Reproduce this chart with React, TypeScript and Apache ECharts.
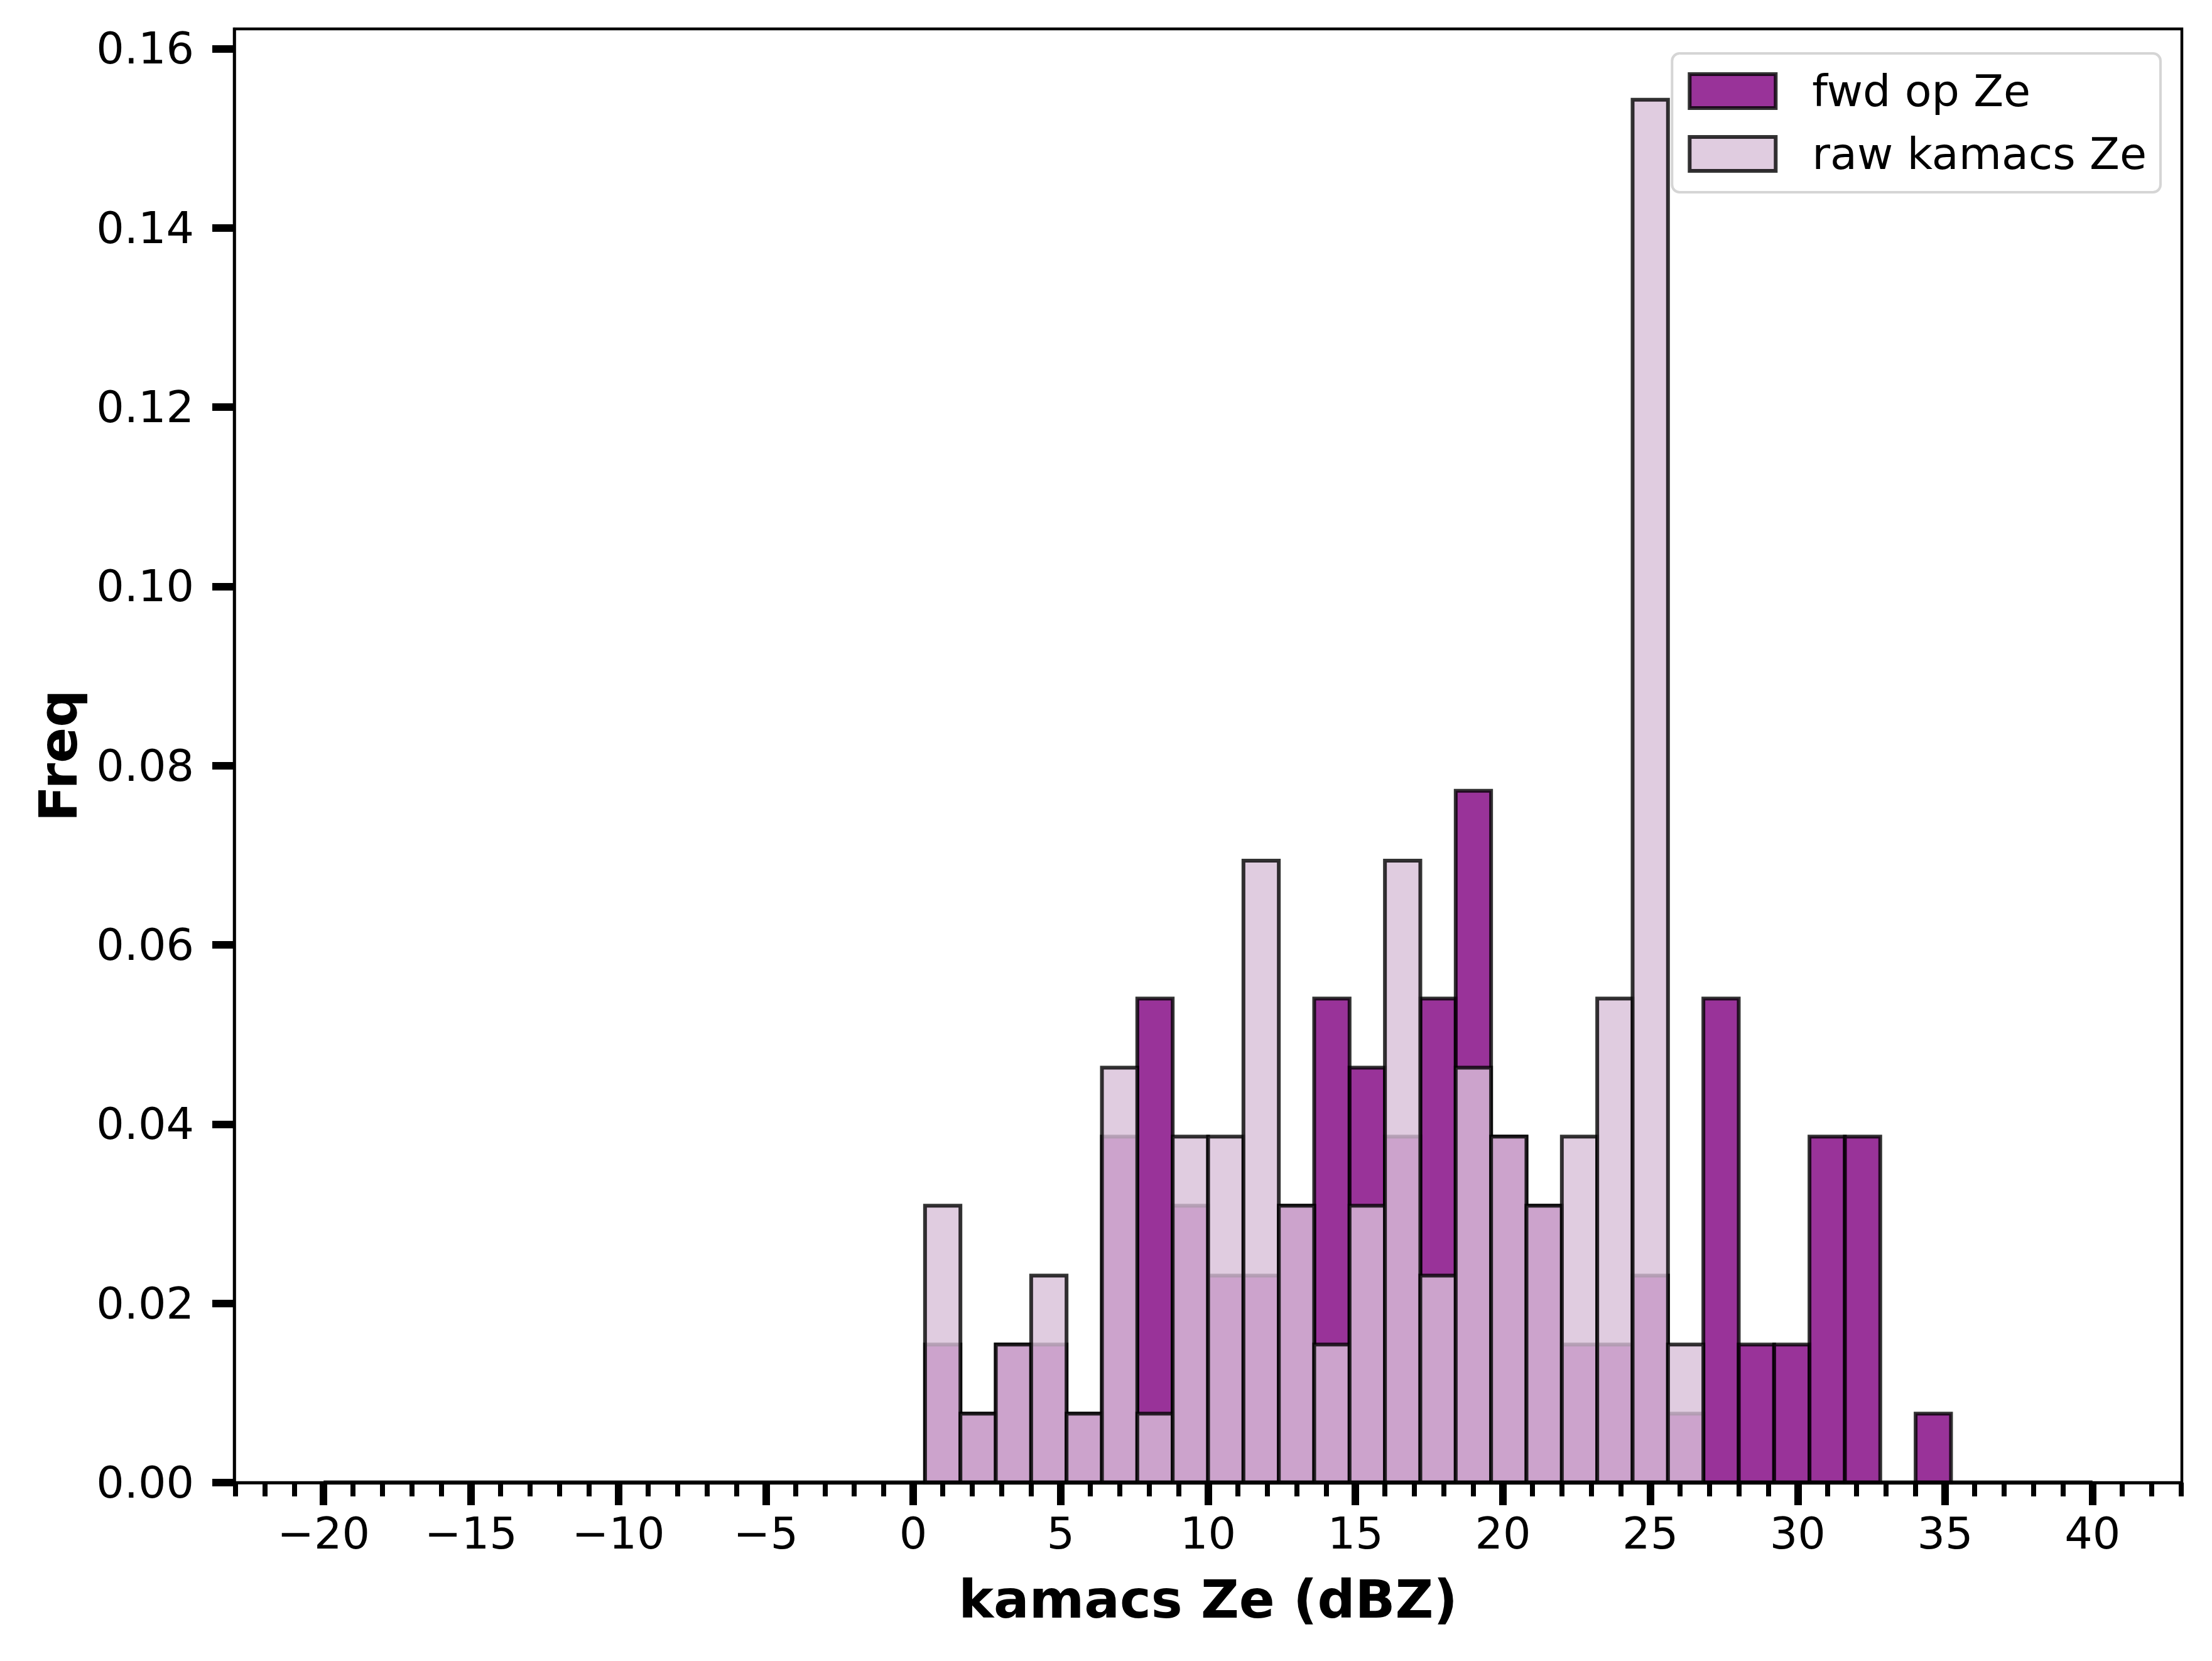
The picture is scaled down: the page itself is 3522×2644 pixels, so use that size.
import React, { useRef, useEffect } from 'react';
import * as echarts from 'echarts';

// histogram bins (shared by both series), width 1.2 dBZ
const binEdges = [
  0.4, 1.6, 2.8, 4.0, 5.2, 6.4, 7.6, 8.8, 10.0, 11.2, 12.4, 13.6, 14.8, 16.0, 17.2,
  18.4, 19.6, 20.8, 22.0, 23.2, 24.4, 25.6, 26.8, 28.0, 29.2, 30.4, 31.6, 32.8, 34.0, 35.2,
];
const fwdFreq = [
  0.0154, 0.0077, 0.0154, 0.0154, 0.0077, 0.0386, 0.054, 0.0309, 0.0231, 0.0231, 0.0309,
  0.054, 0.0463, 0.0386, 0.054, 0.0772, 0.0386, 0.0309, 0.0154, 0.0154, 0.0231, 0.0077,
  0.054, 0.0154, 0.0154, 0.0386, 0.0386, 0, 0.0077,
];
const rawFreq = [
  0.0309, 0.0077, 0.0154, 0.0231, 0.0077, 0.0463, 0.0077, 0.0386, 0.0386, 0.0694, 0.0309,
  0.0154, 0.0309, 0.0694, 0.0231, 0.0463, 0.0386, 0.0309, 0.0386, 0.054, 0.1543, 0.0154,
  0, 0, 0, 0, 0, 0, 0,
];
// full range of the hist bins (empty bins leave a line on the baseline)
const histRange = [-20, 40];

const xMajorTicks = [-20, -15, -10, -5, 0, 5, 10, 15, 20, 25, 30, 35, 40];
const xMinorTicks = Array.from({ length: 67 }, (_, i) => i - 23);
const yTicks = [0, 0.02, 0.04, 0.06, 0.08, 0.1, 0.12, 0.14, 0.16];

const X_MIN = -23.03;
const X_MAX = 43.03;
const Y_MAX = 0.1622;

const FONT = 'DejaVu Sans';
const EDGE = 'rgba(0,0,0,0.8)';
const FWD_COLOR = 'rgba(128,0,128,0.8)';
const RAW_COLOR = 'rgba(216,191,216,0.8)';

const toBars = (freq) =>
  freq
    .map((f, i) => [binEdges[i], binEdges[i + 1], f])
    .filter((d) => d[2] > 0);

const renderBar = (fill) => (params, api) => {
  const p0 = api.coord([api.value(0), api.value(2)]);
  const p1 = api.coord([api.value(1), 0]);
  return {
    type: 'rect',
    shape: { x: p0[0], y: p0[1], width: p1[0] - p0[0], height: p1[1] - p0[1] },
    style: { fill, stroke: EDGE, lineWidth: 6 },
  };
};

const fmtX = (v) => (v < 0 ? '\u2212' + Math.abs(v) : String(v));

const App = () => {
  const chartRef = useRef(null);

  useEffect(() => {
    document.body.style.margin = '0';
    const myChart = echarts.init(chartRef.current, null, { renderer: 'svg' });

    const option = {
      animation: false,
      backgroundColor: '#fff',
      textStyle: { fontFamily: FONT },
      grid: {
        left: 373,
        right: 48,
        top: 46,
        bottom: 284,
        show: true,
        borderColor: '#000',
        borderWidth: 4.5,
        backgroundColor: 'transparent',
      },
      legend: {
        orient: 'vertical',
        right: 82,
        top: 85,
        padding: [25, 22, 26, 25],
        itemWidth: 137,
        itemHeight: 54,
        itemGap: 30,
        backgroundColor: 'rgba(255,255,255,0.8)',
        borderColor: '#d5d5d5',
        borderWidth: 4,
        borderRadius: 12,
        textStyle: {
          fontFamily: FONT,
          fontSize: 70,
          color: '#000',
          lineHeight: 54,
          padding: [0, 0, 0, 53],
        },
        data: [
          {
            name: 'fwd op Ze',
            icon: 'rect',
            itemStyle: { color: FWD_COLOR, borderColor: EDGE, borderWidth: 6 },
          },
          {
            name: 'raw kamacs Ze',
            icon: 'rect',
            itemStyle: { color: RAW_COLOR, borderColor: EDGE, borderWidth: 6 },
          },
        ],
      },
      xAxis: [
        {
          type: 'value',
          min: X_MIN,
          max: X_MAX,
          position: 'bottom',
          axisLine: { show: true, onZero: false, lineStyle: { color: '#000', width: 4.5 } },
          axisTick: {
            show: true,
            customValues: xMajorTicks,
            length: 36,
            lineStyle: { color: '#000', width: 12 },
          },
          axisLabel: {
            customValues: xMajorTicks,
            formatter: fmtX,
            fontFamily: FONT,
            fontSize: 70,
            color: '#000',
            margin: 46,
          },
          splitLine: { show: false },
          name: 'kamacs Ze (dBZ)',
          nameLocation: 'middle',
          nameGap: 144,
          nameTextStyle: { fontFamily: FONT, fontSize: 84, fontWeight: 'bold', color: '#000' },
        },
        {
          type: 'value',
          min: X_MIN,
          max: X_MAX,
          position: 'bottom',
          axisLine: { show: false, onZero: false },
          axisTick: {
            show: true,
            customValues: xMinorTicks,
            length: 22,
            lineStyle: { color: '#000', width: 8 },
          },
          axisLabel: { show: false },
          splitLine: { show: false },
        },
      ],
      yAxis: {
        type: 'value',
        min: 0,
        max: Y_MAX,
        axisLine: { show: true, onZero: false, lineStyle: { color: '#000', width: 4.5 } },
        axisTick: {
          show: true,
          customValues: yTicks,
          length: 35,
          lineStyle: { color: '#000', width: 12 },
        },
        axisLabel: {
          customValues: yTicks,
          formatter: (v) => v.toFixed(2),
          fontFamily: FONT,
          fontSize: 70,
          color: '#000',
          margin: 64,
        },
        splitLine: { show: false },
        name: 'Freq',
        nameLocation: 'middle',
        nameGap: 238,
        nameTextStyle: { fontFamily: FONT, fontSize: 84, fontWeight: 'bold', color: '#000' },
      },
      series: [
        {
          name: 'fwd op Ze',
          type: 'custom',
          xAxisIndex: 0,
          renderItem: renderBar(FWD_COLOR),
          itemStyle: { color: FWD_COLOR },
          encode: { x: [0, 1], y: 2 },
          data: toBars(fwdFreq),
          z: 2,
        },
        {
          name: 'raw kamacs Ze',
          type: 'custom',
          xAxisIndex: 0,
          renderItem: renderBar(RAW_COLOR),
          itemStyle: { color: RAW_COLOR },
          encode: { x: [0, 1], y: 2 },
          data: toBars(rawFreq),
          z: 3,
        },
        {
          name: 'baseline',
          type: 'line',
          xAxisIndex: 0,
          data: histRange.map((x) => [x, 0]),
          symbol: 'none',
          lineStyle: { color: EDGE, width: 7 },
          silent: true,
          z: 4,
        },
      ],
    };

    myChart.setOption(option);

    return () => {
      myChart.dispose();
    };
  }, []);

  return <div ref={chartRef} style={{ width: '3522px', height: '2644px' }} />;
};

export default App;
